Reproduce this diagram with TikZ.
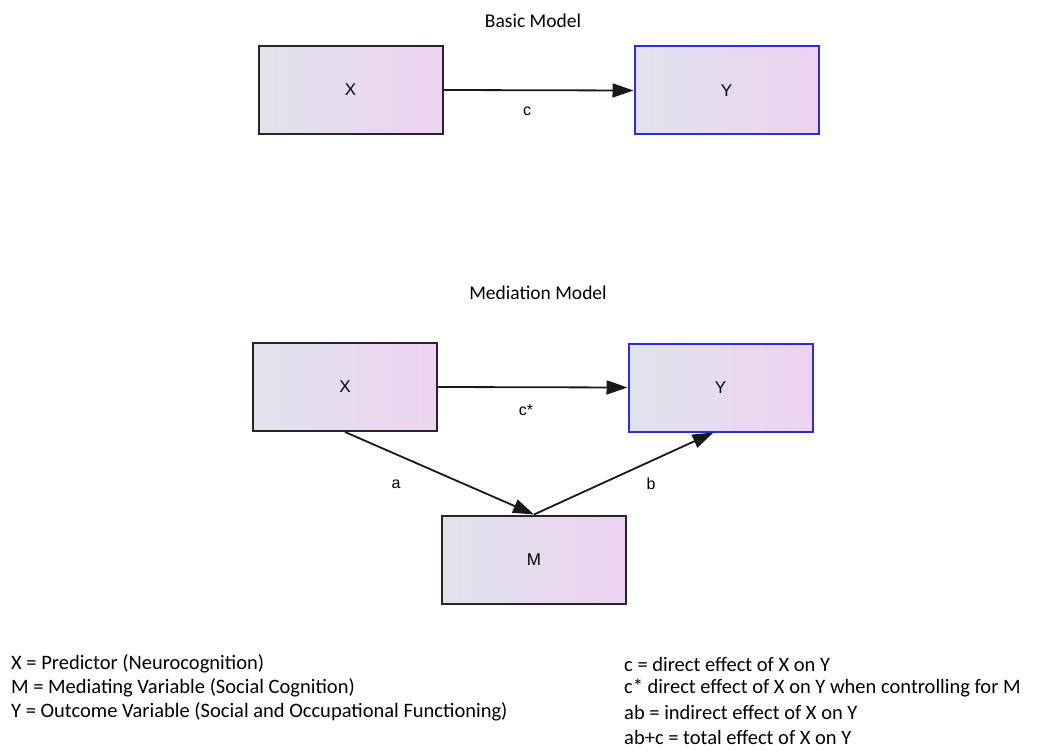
\documentclass[tikz,border=0pt]{standalone}
\usepackage{fontspec}
\setmainfont{Carlito}
\newfontfamily\boxfont{Liberation Sans}
\usetikzlibrary{arrows.meta}
\definecolor{shL}{HTML}{E0E3EC}
\definecolor{shR}{HTML}{EED2F2}
\definecolor{bluebd}{HTML}{2B2BE0}
\tikzset{
  varbox/.style={draw=black!85, line width=2pt, left color=shL, right color=shR, shading angle=90,
    minimum width=184pt, minimum height=88pt, inner sep=0pt, font=\boxfont\fontsize{17}{19}\selectfont},
  bluebox/.style={varbox, draw=bluebd},
  conn/.style={line width=1.8pt, draw=black!90, -{Triangle[length=21pt,width=14pt]}},
  lab/.style={font=\boxfont\fontsize{16}{18}\selectfont},
  title/.style={font=\fontsize{19.5}{22}\selectfont},
  legend/.style={font=\fontsize{20.5}{24}\selectfont, align=left, anchor=west, inner sep=0pt}
}
\begin{document}
\begin{tikzpicture}[x=1pt,y=-1pt]
\useasboundingbox (0,0) rectangle (1051,751);
% Basic model
\node[title] (t1) at (533,21) {Basic Model};
\node[varbox] (bx) at (350.5,90) {X};
\node[bluebox] (by) at (726.5,90.5) {Y};
\draw[conn] (bx.east) -- (by.west);
\node[lab] (lc) at (527,111) {c};
% Mediation model
\node[title] (t2) at (538,293) {Mediation Model};
\node[varbox] (mx) at (345,387) {X};
\node[bluebox] (my) at (720.5,387.5) {Y};
\node[varbox] (mm) at (534,559.5) {M};
\draw[conn] (mx.east) -- (my.west);
\draw[conn] (mx.south) -- (mm.north);
\draw[conn] (mm.north) -- ([xshift=-7pt]my.south);
\node[lab] (lcs) at (526,410) {c*};
\node[lab] (la) at (396,484) {a};
\node[lab] (lb) at (651,484) {b};
% Legends
\node[legend] (l1) at (11,664) {X = Predictor (Neurocognition)};
\node[legend] (l2) at (11,688) {M = Mediating Variable (Social Cognition)};
\node[legend] (l3) at (11,712) {Y = Outcome Variable (Social and Occupational Functioning)};
\node[legend] (r1) at (624,664) {c = direct effect of X on Y};
\node[legend] (r2) at (624,688) {c* direct effect of X on Y when controlling for M};
\node[legend] (r3) at (624,712) {ab = indirect effect of X on Y};
\node[legend] (r4) at (624,737) {ab+c = total effect of X on Y};
\end{tikzpicture}
\end{document}
